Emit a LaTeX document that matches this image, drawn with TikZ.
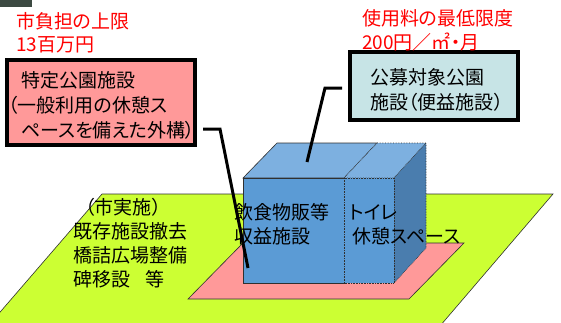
\documentclass[tikz,border=0pt]{standalone}
\usepackage{fontspec}
\setmainfont{Noto Sans CJK JP}[RawFeature=+palt]
\definecolor{greenc}{HTML}{CCFF33}
\definecolor{pinkc}{HTML}{FF9999}
\definecolor{frontc}{HTML}{5B9BD5}
\definecolor{topc}{HTML}{7DB0E0}
\definecolor{sidec}{HTML}{4A7DAE}
\definecolor{calloutc}{HTML}{C7E4E6}
\definecolor{darkbar}{HTML}{3C4A42}
\definecolor{redc}{HTML}{FF0000}
\definecolor{edgec}{HTML}{303030}
\tikzset{
  txt/.style={anchor=base west, inner sep=0pt, text=black},
  redtxt/.style={anchor=base west, inner sep=0pt, text=redc},
  callout/.style={draw=black, line width=4pt, rectangle, inner sep=0pt},
  leader/.style={draw=black, line width=3pt},
  solidedge/.style={draw=edgec, line width=0.6pt},
  dotedge/.style={draw=edgec, line width=0.6pt, densely dotted},
}
\begin{document}
\begin{tikzpicture}[x=1pt, y=-1pt, font=\fontsize{19}{25}\selectfont]
\useasboundingbox (0,0) rectangle (561,322);
\fill[darkbar] (0,0) rectangle (32,7);
% ground areas
\begin{scope}
  \clip (0,0) rectangle (561,322);
  \filldraw[fill=greenc, solidedge] (102,194) -- (553,194) -- (428,340) -- (-24,340) -- cycle;
\end{scope}
\filldraw[fill=pinkc, solidedge] (243,243) -- (464,243) -- (409,299) -- (188,299) -- cycle;
% building block
\filldraw[fill=topc, solidedge] (243,178) -- (344,178) -- (377,143) -- (277,143) -- cycle;
\filldraw[fill=topc, dotedge] (344,178) -- (394,178) -- (426,143) -- (377,143) -- cycle;
\filldraw[fill=sidec, dotedge] (394,178) -- (426,143) -- (426,248) -- (394,283) -- cycle;
\filldraw[fill=frontc, solidedge] (243,178) rectangle (344,283);
\filldraw[fill=frontc, dotedge] (344,178) rectangle (394,283);
% callouts
\node[callout, fill=pinkc, minimum width=188pt, minimum height=85pt] (pinkbox) at (101,102.5) {};
\node[callout, fill=calloutc, minimum width=168pt, minimum height=68pt] (bluebox) at (434,86) {};
% red annotations
\node[redtxt] (r1) at (16,28) {市負担の上限};
\node[redtxt] (r2) at (16,51) {13百万円};
\node[redtxt] (r3) at (362,25) {使用料の最低限度};
\node[redtxt] (r4) at (362,49) {200円／㎡・月};
% pink callout text
\node[txt] (p1) at (21,87) {特定公園施設};
\node[txt] (p2) at (8,112) {（一般利用の休憩ス};
\node[txt] (p3) at (21,137) {ペースを備えた外構）};
% blue callout text
\node[txt] (b1) at (370,84) {公募対象公園};
\node[txt] (b2) at (370,109) {施設（便益施設）};
% green area text
\node[txt] (g1) at (85,214) {（市実施）};
\node[txt] (g2) at (73,238) {既存施設撤去};
\node[txt] (g3) at (73,262) {橋詰広場整備};
\node[txt] (g4) at (73,286) {碑移設\hspace{15pt}等};
% building text
\node[txt] (k1) at (234,219) {飲食物販等};
\node[txt] (k2) at (234,243) {収益施設};
\node[txt] (k3) at (349,219) {トイレ};
\node[txt] (k4) at (352,243) {休憩スペース};
% leader lines
\coordinate (pa) at (203,129);
\coordinate (pb) at (220,129);
\coordinate (pc) at (248,268);
\coordinate (ba) at (342,88);
\coordinate (bb) at (325,88);
\coordinate (bc) at (307,162);
\draw[leader] (pa) -- (pb) -- (pc);
\draw[leader] (ba) -- (bb) -- (bc);
\end{tikzpicture}
\end{document}
